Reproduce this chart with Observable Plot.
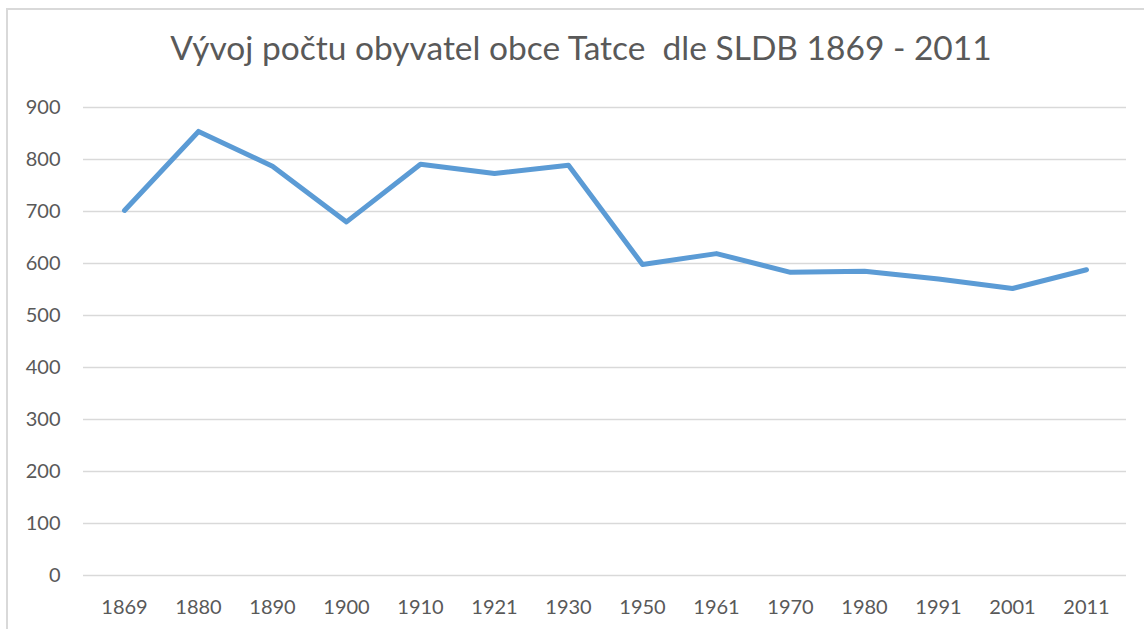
<!DOCTYPE html>
<html>
<head>
<meta charset="utf-8">
<script src="https://cdn.jsdelivr.net/npm/d3@7"></script>
<script src="https://cdn.jsdelivr.net/npm/@observablehq/plot@0.6"></script>
<style>
  html, body { margin: 0; padding: 0; background: #fff; }
  body { width: 1144px; height: 629px; position: relative; overflow: hidden; font-family: Lato, "Open Sans", sans-serif; }
  #frame { position: absolute; left: 6px; top: 8px; width: 1200px; height: 700px; border-left: 2px solid #D9D9D9; border-top: 2px solid #D9D9D9; box-sizing: border-box; }
  #title { position: absolute; left: 0; top: 27px; width: 1162px; text-align: center; font-size: 33.5px; color: #595959; white-space: pre; line-height: 40px; }
  #chart { position: absolute; left: 0; top: 80px; }
</style>
</head>
<body>
<div id="frame"></div>
<div id="title">Vývoj počtu obyvatel obce Tatce  dle SLDB 1869 - 2011</div>
<div id="chart"></div>
<script>
const years = ["1869","1880","1890","1900","1910","1921","1930","1950","1961","1970","1980","1991","2001","2011"];
const population = [702, 854, 787, 680, 791, 773, 789, 598, 619, 583, 585, 570, 552, 588];
const yTicks = [0, 100, 200, 300, 400, 500, 600, 700, 800, 900];

const data = years.map((y, i) => ({year: y, value: population[i]}));

const chart = Plot.plot({
  width: 1144,
  height: 549,
  marginLeft: 83,
  marginRight: 18,
  marginTop: 27,
  marginBottom: 54,
  style: {fontFamily: "Lato, 'Open Sans', sans-serif", fontSize: "20px", color: "#595959", background: "transparent"},
  x: {type: "point", domain: years, padding: 0.5, label: null},
  y: {domain: [0, 900], label: null},
  marks: [
    Plot.ruleY(yTicks, {stroke: "#D9D9D9", strokeWidth: 1.5}),
    Plot.axisY({ticks: yTicks, tickSize: 0, tickPadding: 23, label: null, fill: "#595959", fontSize: 20}),
    Plot.axisX({tickSize: 0, tickPadding: 24, label: null, fill: "#595959", fontSize: 20}),
    Plot.line(data, {x: "year", y: "value", stroke: "#5B9BD5", strokeWidth: 5, strokeLinecap: "round", strokeLinejoin: "round"})
  ]
});
document.getElementById("chart").appendChild(chart);
</script>
</body>
</html>
